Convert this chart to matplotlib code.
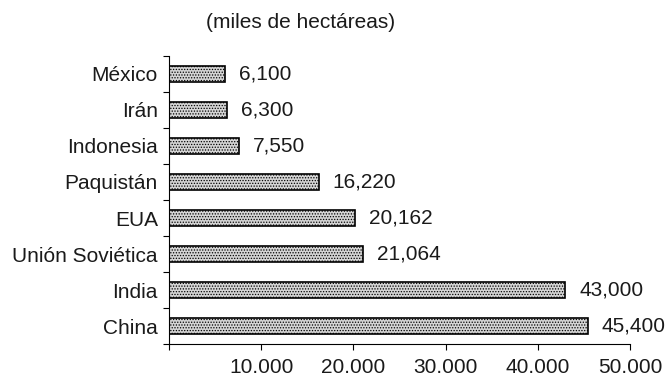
import numpy as np
import matplotlib
matplotlib.use("Agg")
import matplotlib.pyplot as plt
from matplotlib.ticker import FixedLocator, NullFormatter

plt.rcParams['font.family'] = ['Liberation Sans', 'DejaVu Sans']
plt.rcParams['hatch.color'] = '#555555'
plt.rcParams['hatch.linewidth'] = 0.6

# data (top to bottom)
paises = ["México", "Irán", "Indonesia", "Paquistán", "EUA",
          "Unión Soviética", "India", "China"]
hectareas = [6100, 6300, 7550, 16220, 20162, 21064, 43000, 45400]
etiquetas = ["6,100", "6,300", "7,550", "16,220", "20,162",
             "21,064", "43,000", "45,400"]
xticks = [10000, 20000, 30000, 40000, 50000]
xtick_labels = ["10.000", "20.000", "30.000", "40.000", "50.000"]

fs = 15
col = '#1a1a1a'

fig = plt.figure(figsize=(6.67, 3.77), dpi=100)
ax = fig.add_axes([0.2534, 0.0875, 0.6911, 0.764])

pos = np.arange(len(paises))
bars = ax.barh(pos, hectareas, height=0.45, color='#d4d4d4',
               edgecolor='black', linewidth=1.2, hatch='......')

for b, txt in zip(bars, etiquetas):
    ax.annotate(txt, xy=(b.get_width(), b.get_y() + b.get_height() / 2),
                xytext=(10, 0), textcoords="offset points",
                va='center', ha='left', fontsize=fs, color=col)

ax.set_xlim(0, 50000)
ax.set_ylim(len(paises) - 0.5, -0.5)

ax.set_xticks(xticks)
ax.set_xticklabels(xtick_labels, fontsize=fs, color=col)
ax.xaxis.set_minor_locator(FixedLocator([0]))
ax.tick_params(axis='x', which='both', direction='out', length=4, width=0.8, pad=6)

# category labels with ticks between the bars
ax.set_yticks(pos)
ax.set_yticklabels(paises, fontsize=fs, color=col)
ax.tick_params(axis='y', which='major', length=0, pad=8)
ax.yaxis.set_minor_locator(FixedLocator(np.arange(-0.5, len(paises), 1)))
ax.yaxis.set_minor_formatter(NullFormatter())
ax.tick_params(axis='y', which='minor', direction='out', length=4, width=0.8)

for s in ['top', 'right']:
    ax.spines[s].set_visible(False)
for s in ['left', 'bottom']:
    ax.spines[s].set_linewidth(0.8)

fig.text(0.45, 0.939, "(miles de hectáreas)", ha='center', va='center',
         fontsize=fs, color=col)

fig.savefig("out.png", dpi=100)
